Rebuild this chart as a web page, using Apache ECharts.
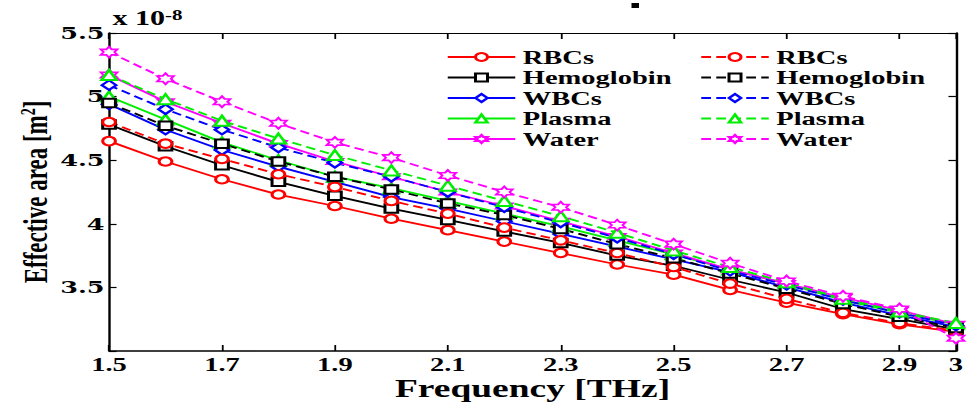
<!DOCTYPE html>
<html>
<head>
<meta charset="utf-8">
<script src="https://cdn.jsdelivr.net/npm/echarts@6/dist/echarts.min.js"></script>
<style>
  html, body { margin: 0; padding: 0; background: #fff; overflow: hidden; }
  /* the figure is drawn narrow and widened horizontally, like the exported plot */
  #chart { width: 649px; height: 404px; transform: scaleX(1.5); transform-origin: 0 0; }
</style>
</head>
<body>
<div id="chart"></div>
<script>
// Frequency samples [THz]
const frequency = ['1.5', '1.6', '1.7', '1.8', '1.9', '2', '2.1', '2.2', '2.3', '2.4', '2.5', '2.6', '2.7', '2.8', '2.9', '3'];

// Effective area, units of 1e-8 m^2 (solid set)
const rbcsSolid       = [4.65, 4.49, 4.35, 4.23, 4.14, 4.04, 3.95, 3.86, 3.77, 3.68, 3.60, 3.48, 3.38, 3.29, 3.21, 3.15];
const hemoglobinSolid = [4.78, 4.61, 4.46, 4.33, 4.22, 4.12, 4.03, 3.94, 3.85, 3.75, 3.67, 3.56, 3.46, 3.33, 3.25, 3.17];
const wbcsSolid       = [4.94, 4.74, 4.58, 4.45, 4.33, 4.21, 4.12, 4.02, 3.92, 3.82, 3.72, 3.62, 3.50, 3.38, 3.28, 3.19];
const plasmaSolid     = [5.00, 4.82, 4.64, 4.50, 4.37, 4.28, 4.18, 4.08, 3.98, 3.87, 3.76, 3.64, 3.53, 3.40, 3.30, 3.21];
const waterSolid      = [5.17, 4.96, 4.79, 4.63, 4.49, 4.37, 4.25, 4.14, 4.02, 3.90, 3.77, 3.64, 3.53, 3.42, 3.32, 3.21];

// Effective area, units of 1e-8 m^2 (dashed set)
const rbcsDashed       = [4.80, 4.63, 4.51, 4.39, 4.29, 4.18, 4.08, 3.97, 3.87, 3.77, 3.66, 3.53, 3.41, 3.30, 3.22, 3.16];
const hemoglobinDashed = [4.95, 4.77, 4.63, 4.49, 4.37, 4.27, 4.16, 4.07, 3.96, 3.84, 3.73, 3.61, 3.49, 3.37, 3.27, 3.18];
const wbcsDashed       = [5.09, 4.90, 4.74, 4.60, 4.48, 4.37, 4.25, 4.13, 4.01, 3.89, 3.76, 3.63, 3.52, 3.40, 3.30, 3.20];
const plasmaDashed     = [5.17, 4.98, 4.81, 4.67, 4.54, 4.42, 4.30, 4.18, 4.06, 3.93, 3.79, 3.66, 3.54, 3.41, 3.31, 3.22];
const waterDashed      = [5.35, 5.14, 4.96, 4.79, 4.64, 4.52, 4.38, 4.25, 4.13, 3.99, 3.84, 3.69, 3.55, 3.43, 3.33, 3.10];

const seriesNames = ['RBCs', 'Hemoglobin', 'WBCs', 'Plasma', 'Water'];

const SERIF = '"Liberation Serif", "Times New Roman", serif';
const HEXAGRAM = 'path://M0,-10L2.887,-5L8.66,-5L5.77,0L8.66,5L2.887,5L0,10L-2.887,5L-8.66,5L-5.77,0L-8.66,-5L-2.887,-5Z';

const styles = [
  { color: '#ff0000', symbol: 'emptyCircle', size: 8.5 },
  { color: '#000000', symbol: 'emptyRect', size: 8.5 },
  { color: '#0000ff', symbol: 'emptyDiamond', size: 9.5 },
  { color: '#00ee00', symbol: 'emptyTriangle', size: 10 },
  { color: '#ff00ff', symbol: HEXAGRAM, size: 11 }
];

function makeSeries(name, values, st, dashed) {
  const isPath = st.symbol.indexOf('path://') === 0;
  return {
    name: name,
    type: 'line',
    data: values,
    symbol: st.symbol,
    symbolSize: st.size,
    showAllSymbol: true,
    lineStyle: { color: st.color, width: 1.8, type: dashed ? [6.5, 3.5] : 'solid' },
    itemStyle: isPath
      ? { color: '#ffffff', borderColor: st.color, borderWidth: 1.6 }
      : { color: st.color, borderWidth: 1.6 },
    emphasis: { disabled: true },
    animation: false
  };
}

const solidData = [rbcsSolid, hemoglobinSolid, wbcsSolid, plasmaSolid, waterSolid];
const dashedData = [rbcsDashed, hemoglobinDashed, wbcsDashed, plasmaDashed, waterDashed];

// dashed entries carry a trailing space so both legend columns stay separate
const solidNames = seriesNames.slice();
const dashedNames = seriesNames.map(n => n + ' ');

const series = [];
solidData.forEach((d, i) => series.push(makeSeries(solidNames[i], d, styles[i], false)));
dashedData.forEach((d, i) => series.push(makeSeries(dashedNames[i], d, styles[i], true)));

const showTick = (index) => index % 2 === 0 || index === frequency.length - 1;

const legendBase = {
  orient: 'vertical',
  top: 42,
  itemWidth: 45,
  itemHeight: 10,
  itemGap: 0.5,
  selectedMode: false,
  formatter: (name) => name.trim(),
  textStyle: { fontFamily: SERIF, fontWeight: 'bold', fontSize: 19, color: '#000', lineHeight: 20 }
};

const chart = echarts.init(document.getElementById('chart'), null, { renderer: 'svg' });

chart.setOption({
  backgroundColor: '#ffffff',
  animation: false,
  grid: { left: 72.7, right: 11.7, top: 33, bottom: 53, containLabel: false, outerBoundsMode: 'none' },
  legend: [
    Object.assign({ left: 292.5, data: solidNames }, legendBase),
    Object.assign({ left: 461.5, data: dashedNames }, legendBase)
  ],
  xAxis: [
    {
      type: 'category',
      data: frequency,
      boundaryGap: false,
      position: 'bottom',
      name: 'Frequency [THz]',
      nameLocation: 'middle',
      nameGap: 28,
      nameMoveOverlap: false,
      nameTextStyle: { fontFamily: SERIF, fontWeight: 'bold', fontSize: 25, lineHeight: 20, color: '#000' },
      axisLine: { show: true, lineStyle: { color: '#000', width: 1.5 } },
      axisTick: { show: true, inside: true, length: 6, interval: showTick, lineStyle: { color: '#000', width: 1.2 } },
      axisLabel: { interval: showTick, margin: 5, fontFamily: SERIF, fontWeight: 'bold', fontSize: 19, lineHeight: 16, color: '#000' },
      splitLine: { show: false }
    },
    {
      type: 'category',
      data: frequency,
      boundaryGap: false,
      position: 'top',
      axisLine: { show: true, lineStyle: { color: '#000', width: 1.2 } },
      axisTick: { show: true, inside: true, length: 6, interval: showTick, lineStyle: { color: '#000', width: 1.2 } },
      axisLabel: { show: false },
      splitLine: { show: false }
    }
  ],
  yAxis: [
    {
      type: 'value',
      min: 3,
      max: 5.5,
      interval: 0.5,
      position: 'left',
      name: 'Effective area [m{sup|2}]',
      nameLocation: 'middle',
      nameRotate: 90,
      nameGap: 38,
      nameMoveOverlap: false,
      nameTextStyle: {
        fontFamily: SERIF, fontWeight: 'bold', fontSize: 23, color: '#000',
        rich: { sup: { fontFamily: SERIF, fontWeight: 'bold', fontSize: 14, color: '#000', verticalAlign: 'top', lineHeight: 23 } }
      },
      axisLine: { show: true, lineStyle: { color: '#000', width: 1.6 } },
      axisTick: { show: true, inside: true, length: 5, lineStyle: { color: '#000', width: 1.2 } },
      axisLabel: {
        margin: 3,
        fontFamily: '"DejaVu Serif", serif', fontWeight: 'bold', fontSize: 17, color: '#000',
        formatter: (v) => (v === 3 ? '' : String(v))
      },
      splitLine: { show: false }
    },
    {
      type: 'value',
      min: 3,
      max: 5.5,
      interval: 0.5,
      position: 'right',
      axisLine: { show: true, lineStyle: { color: '#000', width: 1.6 } },
      axisTick: { show: true, inside: true, length: 5, lineStyle: { color: '#000', width: 1.2 } },
      axisLabel: { show: false },
      splitLine: { show: false }
    }
  ],
  graphic: [
    {
      type: 'text',
      left: 75,
      top: 8,
      style: {
        text: 'x 10{s|-8}',
        fontFamily: SERIF, fontWeight: 'bold', fontSize: 20, fill: '#000',
        rich: { s: { fontFamily: SERIF, fontWeight: 'bold', fontSize: 14, fill: '#000', verticalAlign: 'top' } }
      }
    },
    {
      type: 'rect',
      shape: { x: 421, y: 3, width: 5, height: 5 },
      style: { fill: '#000' }
    }
  ],
  series: series
});
</script>
</body>
</html>
